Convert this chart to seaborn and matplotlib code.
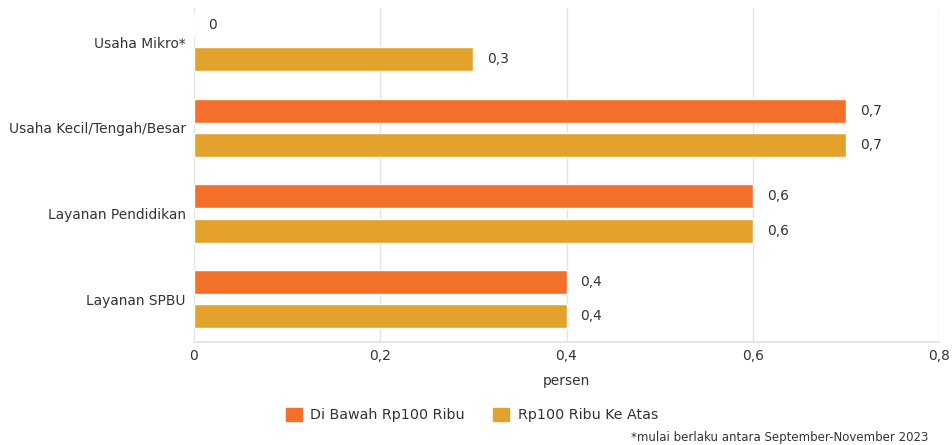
import matplotlib
matplotlib.use("Agg")
import matplotlib.pyplot as plt
import seaborn as sns
import pandas as pd
from matplotlib.patches import Patch

categories = ["Usaha Mikro*", "Usaha Kecil/Tengah/Besar", "Layanan Pendidikan", "Layanan SPBU"]
series_names = ["Di Bawah Rp100 Ribu", "Rp100 Ribu Ke Atas"]
below_100 = [0, 0.7, 0.6, 0.4]
above_100 = [0.3, 0.7, 0.6, 0.4]
x_ticks = [0, 0.2, 0.4, 0.6, 0.8]
x_tick_labels = ["0", "0,2", "0,4", "0,6", "0,8"]
colors = ["#F2702A", "#E3A22C"]

df = pd.DataFrame({
    "kategori": categories * 2,
    "nilai": below_100 + above_100,
    "seri": [series_names[0]] * 4 + [series_names[1]] * 4,
})

sns.set_theme(style="white")
plt.rcParams["font.family"] = ["DejaVu Sans"]
text_color = "#333333"
fs = 9.9

fig = plt.figure(figsize=(9.53, 4.45), dpi=100)
ax = fig.add_axes([194 / 953, 1 - 342 / 445, (939 - 194) / 953, (342 - 8) / 445])

sns.barplot(data=df, y="kategori", x="nilai", hue="seri", order=categories,
            hue_order=series_names, palette=colors, orient="h", width=0.8,
            gap=0.3, ax=ax, legend=False, saturation=1)

ax.set_xlim(0, 0.8)
ax.set_ylim(3.5, -0.4)
ax.set_xticks(x_ticks)
ax.set_xticklabels(x_tick_labels, fontsize=fs, color=text_color)
ax.tick_params(axis="y", labelsize=fs, labelcolor=text_color, length=0, pad=6)
ax.tick_params(axis="x", length=0, pad=5)
ax.set_ylabel("")
ax.set_xlabel("persen", fontsize=fs, color=text_color, labelpad=8)
ax.grid(axis="x", color="#e3e3e3", linewidth=1)
ax.set_axisbelow(True)
for s in ["top", "right", "left"]:
    ax.spines[s].set_visible(False)
ax.spines["bottom"].set_color("#e3e3e3")

for cont in ax.containers:
    labels = [f"{v.get_width():.1f}".replace(".", ",") if v.get_width() != 0 else "0" for v in cont]
    ax.bar_label(cont, labels=labels, padding=10, fontsize=fs, color=text_color)

handles = [Patch(facecolor=c, edgecolor=c) for c in colors]
fig.legend(handles, series_names, loc="center", bbox_to_anchor=(472 / 953, 1 - 415 / 445),
           ncol=2, frameon=False, fontsize=10.3, handlelength=1.1, handleheight=1.1,
           handletextpad=0.6, columnspacing=2.0, labelcolor=text_color)

fig.text(928 / 953, 1 - 437 / 445, "*mulai berlaku antara September-November 2023",
         ha="right", va="center", fontsize=8.5, color=text_color)

fig.savefig("out.png", dpi=100)
